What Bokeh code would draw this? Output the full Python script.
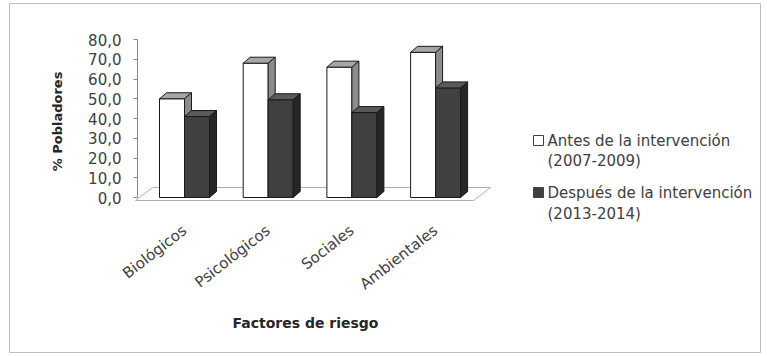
import math

from bokeh.plotting import figure
from bokeh.models import (LinearAxis, FixedTicker, CustomJSTickFormatter,
                          Range1d, ColumnDataSource)
from bokeh.core.properties import value
from bokeh.embed import file_html
from bokeh.resources import INLINE

# ---- data -----------------------------------------------------------------
categories = ["Biológicos", "Psicológicos", "Sociales", "Ambientales"]
antes = [50.0, 68.0, 66.0, 73.5]
despues = [41.0, 49.5, 43.0, 55.5]
y_ticks = [0, 10, 20, 30, 40, 50, 60, 70, 80]
serie_antes = ["Antes de la intervención", "(2007-2009)"]
serie_despues = ["Después de la intervención", "(2013-2014)"]
x_title = "Factores de riesgo"
y_title = "% Pobladores"

# ---- geometry (canvas pixels) --------------------------------------------
W, H = 767, 356
FL, FR, FT, FB = 9, 760, 3, 352      # frame box, drawn as the chart border
CAT_PX = 83.7                         # one category step
PCT_PX = 1.975                        # one percentage point
ORIGIN_X = 184                        # centre of the first category
ORIGIN_Y = 197                        # value 0

x0 = -(ORIGIN_X - FL) / CAT_PX
x1 = x0 + (FR - FL) / CAT_PX
y1 = (ORIGIN_Y - FT) / PCT_PX
y0 = y1 - (FB - FT) / PCT_PX


def dx(px):
    return px / CAT_PX


def dy(px):
    return px / PCT_PX


def cx(px):
    return (px - ORIGIN_X) / CAT_PX


def cy(py):
    return (ORIGIN_Y - py) / PCT_PX


TEXT = "#404040"
FONT = value("DejaVu Sans")

p = figure(width=W, height=H, x_range=Range1d(x0, x1), y_range=Range1d(y0, y1),
           x_axis_type=None, y_axis_type=None, toolbar_location=None,
           output_backend="svg",
           min_border_left=FL, min_border_right=W - FR,
           min_border_top=FT, min_border_bottom=H - FB)
p.outline_line_color = "#bfbfbf"
p.outline_line_width = 1
p.background_fill_color = "white"
p.border_fill_color = "white"

n = len(categories)
xs = list(range(n))

# ---- floor ----------------------------------------------------------------
fl_left, fl_right = -dx(49), (n - 1) + dx(38)
fl_front, fl_back = cy(200), cy(187)
fdx = dx(17)
p.patch([fl_left, fl_right, fl_right + fdx, fl_left + fdx],
        [fl_front, fl_front, fl_back, fl_back],
        fill_color="white", line_color="#b0b0b0", line_width=1)

# ---- 3D bars --------------------------------------------------------------
BW = dx(25)
DX, DY = dx(7), dy(6)


def bars_3d(lefts, vals, front, top, side):
    rights = [l + BW for l in lefts]
    p.quad(left=lefts, right=rights, bottom=[0] * len(vals), top=vals,
           fill_color=front, line_color="#1a1a1a", line_width=1)
    p.patches([[l, r, r + DX, l + DX] for l, r in zip(lefts, rights)],
              [[v, v, v + DY, v + DY] for v in vals],
              fill_color=top, line_color="#1a1a1a", line_width=1)
    p.patches([[r, r + DX, r + DX, r] for r in rights],
              [[0, DY, v + DY, v] for v in vals],
              fill_color=side, line_color="#1a1a1a", line_width=1)


bars_3d([x - BW for x in xs], antes, "white", "#a6a6a6", "#8c8c8c")
bars_3d(xs, despues, "#404040", "#5a5a5a", "#262626")

# ---- value axis -----------------------------------------------------------
yaxis = LinearAxis(fixed_location=cx(137), bounds=(0, 80),
                   ticker=FixedTicker(ticks=y_ticks),
                   formatter=CustomJSTickFormatter(
                       code="return tick.toFixed(1).replace('.', ',');"))
yaxis.axis_line_color = "#868686"
yaxis.major_tick_line_color = "#868686"
yaxis.major_tick_out = 4
yaxis.major_tick_in = 0
yaxis.minor_tick_line_color = None
yaxis.major_label_standoff = 12
yaxis.major_label_text_font = "DejaVu Sans"
yaxis.major_label_text_font_size = "15px"
yaxis.major_label_text_color = TEXT
p.add_layout(yaxis, "left")

# ---- category labels ------------------------------------------------------
p.text(x=xs, y=[cy(228)] * n, text=categories, angle=math.radians(38),
       text_align="right", text_baseline="middle", text_font=FONT,
       text_font_size="15px", text_color=TEXT)

# ---- axis titles ----------------------------------------------------------
p.text(x=[cx(305)], y=[cy(322)], text=[x_title], text_align="center",
       text_baseline="middle", text_font=FONT, text_font_style="bold",
       text_font_size="14px", text_color="#262626")
p.text(x=[cx(57)], y=[cy(121)], text=[y_title], angle=math.pi / 2,
       text_align="center", text_baseline="middle", text_font=FONT,
       text_font_style="bold", text_font_size="13px", text_color="#262626")

# ---- legend ---------------------------------------------------------------
p.scatter(x=[cx(538), cx(538)], y=[cy(140), cy(192)], marker="square", size=10,
          fill_color=["white", "#404040"], line_color="#404040", line_width=1)
leg_src = ColumnDataSource(dict(
    x=[cx(547)] * 4,
    y=[cy(140), cy(160), cy(192), cy(213)],
    t=serie_antes + serie_despues))
p.text(x="x", y="y", text="t", source=leg_src, text_align="left",
       text_baseline="middle", text_font=FONT, text_font_size="15px",
       text_color=TEXT)

open("out.html", "w").write(file_html(p, INLINE))
